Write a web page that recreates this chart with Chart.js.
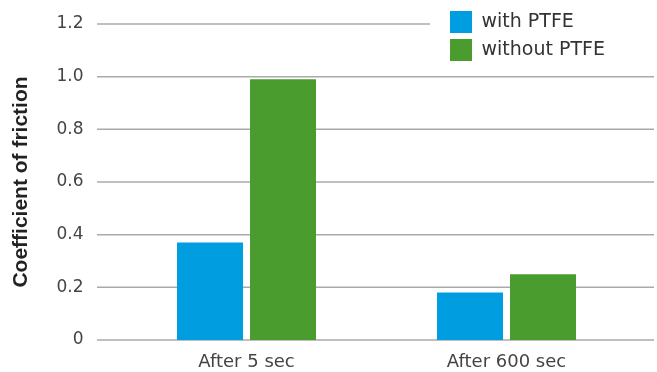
<!DOCTYPE html>
<html>
<head>
<meta charset="utf-8">
<script src="https://cdn.jsdelivr.net/npm/chart.js@4"></script>
<style>
  html, body { margin: 0; padding: 0; background: #fff; }
  #wrap { width: 657px; height: 372px; }
</style>
</head>
<body>
<div id="wrap"><canvas id="frictionChart"></canvas></div>
<script>
const categories = ['After 5 sec', 'After 600 sec'];
const seriesNames = ['with PTFE', 'without PTFE'];
const withPtfe = [0.37, 0.18];
const withoutPtfe = [0.99, 0.25];
const yTicks = [0, 0.2, 0.4, 0.6, 0.8, 1.0, 1.2];

const gridColor = '#aaaaaa';

// grid lines run a bit past the plot area, and stop behind the legend
const wideGrid = {
    id: 'wideGrid',
    afterLayout(chart) {
        const lg = chart.legend;
        lg.left = 444;
        lg.top = 5;
    },
    beforeDraw(chart) {
        const {ctx, chartArea} = chart;
        const y = chart.scales.y;
        const x0 = chartArea.left - 19.5;
        const x1 = chartArea.right + 17.5;
        ctx.save();
        ctx.strokeStyle = gridColor;
        ctx.lineWidth = 1.5;
        yTicks.forEach(v => {
            const py = y.getPixelForValue(v);
            ctx.beginPath();
            ctx.moveTo(x0, py);
            ctx.lineTo(x1, py);
            ctx.stroke();
        });
        ctx.fillStyle = '#fff';
        ctx.fillRect(chart.legend.left - 14, 0, x1 - chart.legend.left + 14, 66);
        ctx.restore();
    }
};

const ctx = document.getElementById('frictionChart');

new Chart(ctx, {
    type: 'bar',
    data: {
        labels: categories,
        datasets: [{
            label: seriesNames[0],
            data: withPtfe,
            backgroundColor: '#009ee0',
            borderWidth: 0
        }, {
            label: seriesNames[1],
            data: withoutPtfe,
            backgroundColor: '#4a9c2e',
            borderWidth: 0
        }]
    },
    options: {
        responsive: true,
        maintainAspectRatio: false,
        animation: false,
        categoryPercentage: 0.5615,
        barPercentage: 0.904,
        layout: {
            padding: { top: 24, right: 20.5, bottom: 0, left: 0 }
        },
        scales: {
            x: {
                afterFit: s => { s.height = 32; },
                grid: { display: false, drawTicks: false },
                border: { display: false },
                ticks: {
                    padding: 12,
                    color: '#444',
                    font: { family: 'DejaVu Sans', size: 18 }
                }
            },
            y: {
                min: 0,
                max: 1.2,
                afterBuildTicks: s => { s.ticks = yTicks.map(v => ({ value: v })); },
                afterFit: s => {
                    s.width = 116.5;
                    s.paddingTop = 10;
                    s.paddingBottom = 10;
                },
                grid: { display: false, drawTicks: false },
                border: { display: false },
                ticks: {
                    padding: 33,
                    color: '#444',
                    font: { family: 'DejaVu Sans', size: 17 },
                    callback: v => v === 0 ? '0' : v.toFixed(1)
                },
                title: {
                    display: true,
                    text: 'Coefficient of friction',
                    color: '#222',
                    padding: { top: 9, bottom: 0 },
                    font: { family: 'Liberation Sans', size: 21, weight: 'bold' }
                }
            }
        },
        plugins: {
            legend: {
                position: 'chartArea',
                align: 'start',
                labels: {
                    boxWidth: 22,
                    boxHeight: 22,
                    padding: 6,
                    color: '#333',
                    font: { family: 'DejaVu Sans', size: 19 }
                }
            },
            tooltip: { enabled: false }
        }
    },
    plugins: [wideGrid]
});
</script>
</body>
</html>
